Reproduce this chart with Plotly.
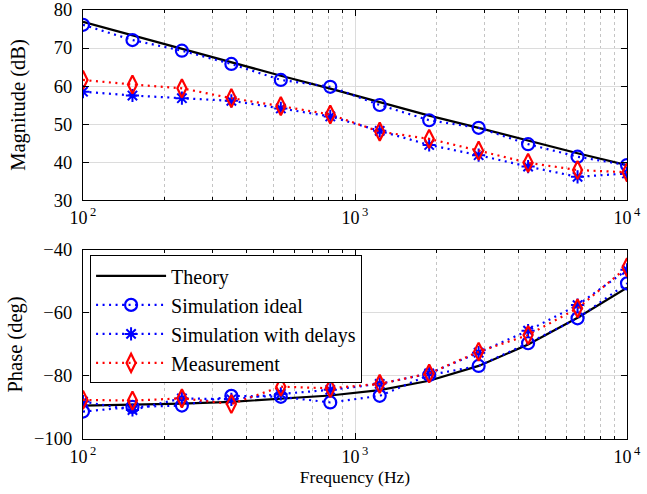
import plotly.graph_objects as go

freq = [100, 152.0, 231.0, 351.1, 533.7, 811.1, 1232.8, 1873.8, 2848.0, 4328.8, 6579.3, 10000]

mag_theory = [76.9, 73.3, 69.8, 66.3, 62.7, 59.3, 55.8, 52.2, 49.0, 45.6, 42.3, 39.2]
mag_sim_ideal = [76.1, 72.1, 69.3, 65.8, 61.6, 59.8, 55.0, 51.0, 49.0, 44.7, 41.4, 39.2]
mag_sim_delay = [58.5, 57.5, 56.8, 56.1, 54.1, 52.0, 48.2, 44.5, 41.8, 38.8, 36.1, 37.0]
mag_meas = [61.6, 60.4, 59.4, 56.8, 54.7, 52.5, 48.0, 46.1, 43.0, 39.8, 37.9, 37.3]

ph_theory = [-89.4, -89.2, -88.8, -88.2, -87.3, -86.2, -84.5, -81.5, -76.8, -70.0, -61.5, -52.0]
ph_sim_ideal = [-91.3, -89.8, -89.4, -86.3, -86.6, -88.4, -86.3, -79.7, -76.8, -69.6, -61.7, -50.6]
ph_sim_delay = [-88.1, -90.8, -87.1, -87.4, -85.7, -84.4, -82.5, -79.2, -72.6, -65.6, -57.5, -46.3]
ph_meas = [-87.6, -87.8, -87.1, -88.9, -83.4, -83.9, -82.5, -79.2, -72.3, -67.0, -58.5, -45.5]

names = ["Theory", "Simulation ideal", "Simulation with delays", "Measurement"]
x_tickvals = [100, 1000, 10000]
x_ticktext = ["10<sup>\u20092</sup>", "10<sup>\u20093</sup>", "10<sup>\u20094</sup>"]
minor_vals = [200, 300, 400, 500, 600, 700, 800, 900,
              2000, 3000, 4000, 5000, 6000, 7000, 8000, 9000]

FONT = "Liberation Serif"
BLUE = "#0000ff"
RED = "#ff0000"
DOT = "2px,4.5px"

fig = go.Figure()

def add_set(xa, ya, th, si, sd, me, show):
    fig.add_trace(go.Scatter(x=freq, y=th, mode="lines", name=names[0],
                             line=dict(color="black", width=2.2),
                             xaxis=xa, yaxis=ya, showlegend=show))
    fig.add_trace(go.Scatter(x=freq, y=si, mode="lines+markers", name=names[1],
                             line=dict(color=BLUE, width=2.2, dash=DOT),
                             marker=dict(symbol="circle-open", size=12, color=BLUE,
                                         line=dict(width=2.2, color=BLUE)),
                             xaxis=xa, yaxis=ya, showlegend=show))
    fig.add_trace(go.Scatter(x=freq, y=sd, mode="lines+markers", name=names[2],
                             line=dict(color=BLUE, width=2.2, dash=DOT),
                             marker=dict(symbol="asterisk-open", size=11, color=BLUE,
                                         line=dict(width=2, color=BLUE)),
                             xaxis=xa, yaxis=ya, showlegend=show))
    fig.add_trace(go.Scatter(x=freq, y=me, mode="lines+markers", name=names[3],
                             line=dict(color=RED, width=2.2, dash=DOT),
                             marker=dict(symbol="diamond-tall-open", size=13, color=RED,
                                         line=dict(width=2.2, color=RED)),
                             xaxis=xa, yaxis=ya, showlegend=show))

add_set("x", "y", mag_theory, mag_sim_ideal, mag_sim_delay, mag_meas, False)
add_set("x2", "y2", ph_theory, ph_sim_ideal, ph_sim_delay, ph_meas, True)

def xaxis_cfg(domain_anchor, title=None):
    d = dict(type="log", range=[2, 4], anchor=domain_anchor, automargin=False,
             tickmode="array", tickvals=x_tickvals, ticktext=x_ticktext,
             ticklabeloverflow="allow",
             showline=True, linecolor="black", linewidth=1, mirror="ticks",
             ticks="inside", ticklen=6, tickcolor="black", ticklabelstandoff=1,
             showgrid=True, gridcolor="#dcdcdc", gridwidth=1,
             minor=dict(tickmode="array", tickvals=minor_vals, showgrid=True,
                        gridcolor="#c4c4c4", griddash="dot", gridwidth=1,
                        ticks="inside", ticklen=3, tickcolor="black"),
             zeroline=False, tickfont=dict(size=18, family=FONT, color="black"))
    if title:
        d["title"] = dict(text=title, font=dict(size=17.5, family=FONT, color="black"), standoff=2)
    return d

def yaxis_cfg(domain, anchor, rng, dtick, title, standoff):
    return dict(domain=domain, anchor=anchor, range=rng, tickmode="linear", tick0=rng[0], dtick=dtick,
                automargin=False, ticklabeloverflow="allow",
                showline=True, linecolor="black", linewidth=1, mirror="ticks",
                ticks="inside", ticklen=6, tickcolor="black", ticklabelstandoff=6,
                showgrid=True, gridcolor="#dcdcdc", gridwidth=1, zeroline=False,
                tickfont=dict(size=18.5, family=FONT, color="black"),
                title=dict(text=title, font=dict(size=20.5, family=FONT, color="black"), standoff=standoff))

fig.update_layout(
    width=647, height=494,
    margin=dict(l=83, r=20, t=10, b=55),
    paper_bgcolor="white", plot_bgcolor="white",
    font=dict(family=FONT, size=20, color="black"),
    xaxis=xaxis_cfg("y"),
    xaxis2=xaxis_cfg("y2", "Frequency (Hz)"),
    yaxis=yaxis_cfg([0.557, 1.0], "x", [30, 80], 10, "Magnitude (dB)", 22),
    yaxis2=yaxis_cfg([0.0, 0.4406], "x2", [-100, -40], 20, "Phase (deg)", 5),
    legend=dict(x=0.013, y=0.428, xanchor="left", yanchor="top",
                bgcolor="white", bordercolor="black", borderwidth=1,
                font=dict(size=20, family=FONT, color="black"),
                tracegroupgap=0, itemwidth=70),
    showlegend=True,
)

# remove the browser's default 8px body margin so the figure sits at the page origin
fig.write_html("out.html", config={"displayModeBar": False},
               post_script="document.body.style.margin='0px';")
